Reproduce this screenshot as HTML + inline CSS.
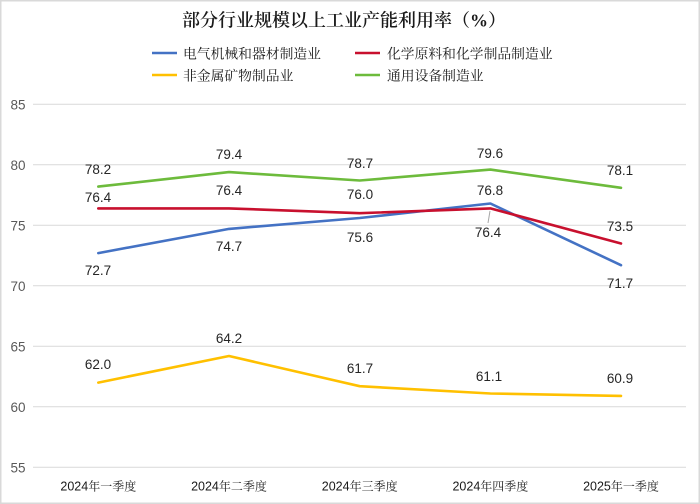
<!DOCTYPE html>
<html>
<head>
<meta charset="utf-8">
<style>
  html,body{margin:0;padding:0;background:#fff;}
  svg{display:block;}
  .cjk{font-family:"Liberation Serif","Noto Serif CJK SC","Noto Sans CJK SC",serif;}
  .xl{font-family:"Liberation Sans","Noto Serif CJK SC","Noto Sans CJK SC",sans-serif;}
  .num{font-family:"Liberation Sans","Noto Sans CJK SC",sans-serif;}
</style>
</head>
<body>
<svg width="700" height="504" viewBox="0 0 700 504" xmlns="http://www.w3.org/2000/svg">
  <rect x="0.75" y="0.75" width="698.5" height="502.5" fill="#fff" stroke="#d9d9d9" stroke-width="1.5"/>

  <!-- Title -->
  <text x="344" y="26.5" text-anchor="middle" class="cjk" font-size="18" font-weight="600" fill="#1a1a1a">部分行业规模以上工业产能利用率（%）</text>

  <!-- Legend -->
  <line x1="152" y1="53" x2="177" y2="53" stroke="#4472C4" stroke-width="2.5"/>
  <text x="183" y="58.5" class="cjk" font-size="13.8" fill="#1a1a1a">电气机械和器材制造业</text>
  <line x1="355" y1="53" x2="380" y2="53" stroke="#C8102E" stroke-width="2.5"/>
  <text x="387" y="58.5" class="cjk" font-size="13.8" fill="#1a1a1a">化学原料和化学制品制造业</text>
  <line x1="152" y1="75" x2="177" y2="75" stroke="#FFC000" stroke-width="2.5"/>
  <text x="183" y="80.5" class="cjk" font-size="13.8" fill="#1a1a1a">非金属矿物制品业</text>
  <line x1="355" y1="75" x2="380" y2="75" stroke="#6DBB3C" stroke-width="2.5"/>
  <text x="387" y="80.5" class="cjk" font-size="13.8" fill="#1a1a1a">通用设备制造业</text>

  <!-- Gridlines -->
  <g stroke="#d9d9d9" stroke-width="1">
    <line x1="33" y1="104.3" x2="686" y2="104.3"/>
    <line x1="33" y1="164.8" x2="686" y2="164.8"/>
    <line x1="33" y1="225.3" x2="686" y2="225.3"/>
    <line x1="33" y1="285.8" x2="686" y2="285.8"/>
    <line x1="33" y1="346.3" x2="686" y2="346.3"/>
    <line x1="33" y1="406.8" x2="686" y2="406.8"/>
    <line x1="33" y1="467.3" x2="686" y2="467.3"/>
  </g>

  <!-- Y tick labels -->
  <g class="num" font-size="13.5" fill="#595959" text-anchor="end">
    <text x="25.5" y="109.3">85</text>
    <text x="25.5" y="169.8">80</text>
    <text x="25.5" y="230.3">75</text>
    <text x="25.5" y="290.8">70</text>
    <text x="25.5" y="351.3">65</text>
    <text x="25.5" y="411.8">60</text>
    <text x="25.5" y="472.3">55</text>
  </g>

  <!-- X labels -->
  <g class="xl" font-size="12.5" fill="#1a1a1a" text-anchor="middle">
    <text x="98.3" y="490.5">2024<tspan class="cjk" font-size="12">年一季度</tspan></text>
    <text x="229" y="490.5">2024<tspan class="cjk" font-size="12">年二季度</tspan></text>
    <text x="359.7" y="490.5">2024<tspan class="cjk" font-size="12">年三季度</tspan></text>
    <text x="490.4" y="490.5">2024<tspan class="cjk" font-size="12">年四季度</tspan></text>
    <text x="621" y="490.5">2025<tspan class="cjk" font-size="12">年一季度</tspan></text>
  </g>

  <!-- Series -->
  <g fill="none" stroke-width="2.6" stroke-linejoin="round" stroke-linecap="round">
    <polyline stroke="#6DBB3C" points="98.3,186.6 229,172.1 359.7,180.5 490.4,169.6 621,187.8"/>
    <polyline stroke="#4472C4" points="98.3,253.1 229,228.9 359.7,218.0 490.4,203.5 621,265.2"/>
    <polyline stroke="#C8102E" points="98.3,208.4 229,208.4 359.7,213.2 490.4,208.4 621,243.5"/>
    <polyline stroke="#FFC000" points="98.3,382.6 229,356.0 359.7,386.2 490.4,393.5 621,395.9"/>
  </g>

  <!-- leader line -->
  <line x1="490" y1="211" x2="488" y2="223" stroke="#a6a6a6" stroke-width="1"/>

  <!-- Data labels -->
  <g class="num" font-size="13.5" fill="#262626" text-anchor="middle">
    <!-- green -->
    <text x="98" y="174">78.2</text>
    <text x="229" y="159">79.4</text>
    <text x="360" y="168">78.7</text>
    <text x="490" y="158">79.6</text>
    <text x="620" y="175">78.1</text>
    <!-- red -->
    <text x="98" y="202">76.4</text>
    <text x="229" y="195">76.4</text>
    <text x="360" y="199">76.0</text>
    <text x="488" y="237">76.4</text>
    <text x="620" y="231">73.5</text>
    <!-- blue -->
    <text x="98" y="275">72.7</text>
    <text x="229" y="251">74.7</text>
    <text x="360" y="242">75.6</text>
    <text x="490" y="195">76.8</text>
    <text x="620" y="288">71.7</text>
    <!-- yellow -->
    <text x="98" y="369">62.0</text>
    <text x="229" y="343">64.2</text>
    <text x="360" y="373">61.7</text>
    <text x="489" y="381">61.1</text>
    <text x="620" y="383">60.9</text>
  </g>
</svg>
</body>
</html>
